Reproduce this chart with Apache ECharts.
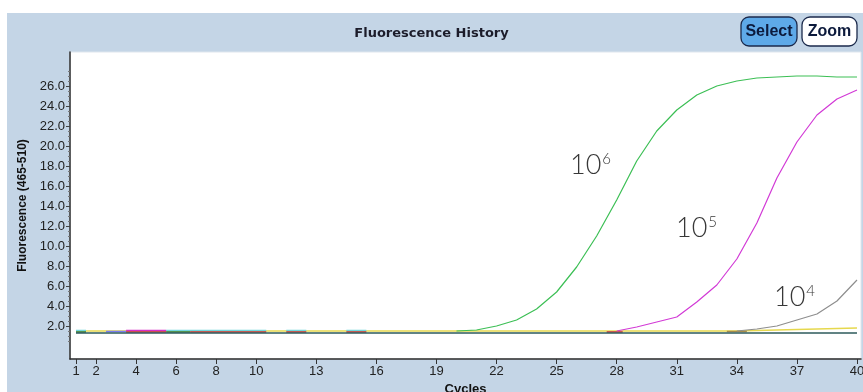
<!DOCTYPE html>
<html>
<head>
<meta charset="utf-8">
<script src="https://cdn.jsdelivr.net/npm/echarts@6/dist/echarts.min.js"></script>
<style>
  html, body { margin: 0; padding: 0; background: #ffffff; }
  #chart { width: 863px; height: 392px; }
</style>
</head>
<body>
<div id="chart"></div>
<script>
// cycle numbers and tick labels
const cycles = [1, 2, 3, 4, 5, 6, 7, 8, 9, 10, 11, 12, 13, 14, 15, 16, 17, 18, 19, 20,
  21, 22, 23, 24, 25, 26, 27, 28, 29, 30, 31, 32, 33, 34, 35, 36, 37, 38, 39, 40];
const xTicks = [1, 2, 4, 6, 8, 10, 13, 16, 19, 22, 25, 28, 31, 34, 37, 40];
const yTicks = [2, 4, 6, 8, 10, 12, 14, 16, 18, 20, 22, 24, 26];

// amplification curves (start cycle + values)
const green10e6Start = 20;
const green10e6 = [1.5, 1.6, 2.0, 2.6, 3.7, 5.4, 7.9, 11.0, 14.6, 18.5, 21.5, 23.6, 25.1, 26.0, 26.5, 26.8, 26.9, 27.0, 27.0, 26.9, 26.9];
const magenta10e5Start = 28;
const magenta10e5 = [1.5, 1.9, 2.4, 2.9, 4.4, 6.1, 8.7, 12.3, 16.8, 20.4, 23.1, 24.7, 25.6];
const gray10e4Start = 34;
const gray10e4 = [1.5, 1.7, 2.0, 2.6, 3.2, 4.5, 6.6];
const yellowStart = 1;
const yellow = [1.5, 1.5, 1.5, 1.5, 1.5, 1.5, 1.5, 1.5, 1.5, 1.5, 1.5, 1.5, 1.5, 1.5, 1.5, 1.5, 1.5, 1.5, 1.5, 1.5,
  1.5, 1.5, 1.5, 1.5, 1.5, 1.5, 1.5, 1.5, 1.5, 1.5, 1.5, 1.5, 1.5, 1.5, 1.55, 1.6, 1.65, 1.7, 1.75, 1.8];
const tealLevel = 1.3;

// flat baseline traces, visible only in short pieces (cycle ranges)
const cyanRanges = [[1, 1.5], [5.5, 10.5], [11.5, 12.5], [14.5, 15.5]];
const cyanLevel = 1.55;
const darkGreenRanges = [[1, 1.5], [5.5, 6.7]];
const darkGreenLevel = 1.4;
const blueRanges = [[2.5, 3.5]];
const blueLevel = 1.45;
const pinkRanges = [[3.5, 5.5]];
const pinkLevel = 1.55;
const redRanges = [[3.5, 5.5], [6.7, 10.5], [11.5, 12.5], [14.5, 15.5], [27.5, 28.3]];
const redLevel = 1.4;
const oliveRanges = [[33.5, 34.5]];
const oliveLevel = 1.45;

function curve(start, vals) {
  return vals.map((v, i) => [cycles[start - 1 + i], v]);
}
function pieces(ranges, level) {
  const out = [];
  ranges.forEach((r, i) => {
    if (i > 0) out.push([r[0], null]);
    out.push([r[0], level], [r[1], level]);
  });
  return out;
}
function line(name, data, color, width) {
  return {
    name, type: 'line', data, showSymbol: false, symbol: 'none',
    connectNulls: false, smooth: false,
    lineStyle: { color, width: width || 1.2 }, z: 3
  };
}

const chart = echarts.init(document.getElementById('chart'));
const supText = (x, y, base, sup) => ({
  type: 'text', left: x, top: y, z: 100,
  style: {
    text: '{a|' + base + '}{b|' + sup + '}',
    rich: {
      a: { fontSize: 27, fontFamily: 'Lato', fontWeight: 300, fill: '#383838', verticalAlign: 'top', lineHeight: 28 },
      b: { fontSize: 15, fontFamily: 'Lato', fontWeight: 300, fill: '#383838', verticalAlign: 'top', lineHeight: 28, padding: [0, 0, 12, 1] }
    }
  }
});
const btnFont = { fontFamily: 'Liberation Sans, Arial, sans-serif', fontWeight: 'bold', fontSize: 16, fill: '#0c1a3c', align: 'center', verticalAlign: 'middle' };

chart.setOption({
  animation: false,
  backgroundColor: '#ffffff',
  graphic: [
    { type: 'rect', shape: { x: 7, y: 13, width: 856, height: 379 }, style: { fill: '#c4d5e6' }, z: -10, silent: true },
    { type: 'text', left: 'center', top: 27, style: { text: 'Fluorescence History', fontFamily: 'DejaVu Sans', fontWeight: 'bold', fontSize: 13, fill: '#1c1c2a' } },
    { type: 'rect', shape: { x: 741, y: 17, width: 56, height: 29, r: 8 }, style: { fill: '#5ea9e8', stroke: '#1b2a4c', lineWidth: 1.3 } },
    { type: 'text', x: 769, y: 31.5, style: Object.assign({ text: 'Select' }, btnFont) },
    { type: 'rect', shape: { x: 802, y: 17, width: 55, height: 29, r: 8 }, style: { fill: '#ffffff', stroke: '#1b2a4c', lineWidth: 1.3 } },
    { type: 'text', x: 829.5, y: 31.5, style: Object.assign({ text: 'Zoom' }, btnFont) },
    supText(570, 152, '10', '6'),
    supText(676, 215, '10', '5'),
    supText(774, 284, '10', '4')
  ],
  grid: {
    left: 70, top: 52, right: 2, bottom: 33,
    outerBoundsMode: 'none',
    show: true, backgroundColor: '#ffffff', borderColor: '#dfe6ee', borderWidth: 1
  },
  xAxis: {
    type: 'value', min: 0.7, max: 40.2,
    name: 'Cycles', nameLocation: 'middle', nameGap: 23,
    nameTextStyle: { fontFamily: 'Liberation Sans', fontWeight: 'bold', fontSize: 13, color: '#111' },
    axisLine: { show: true, onZero: false, lineStyle: { color: '#2b2b2b', width: 1.5 } },
    axisTick: { show: true, customValues: xTicks, length: 5, lineStyle: { color: '#333' } },
    axisLabel: { customValues: xTicks, fontFamily: 'Liberation Sans', fontSize: 13, color: '#222', margin: 6 },
    splitLine: { show: false }
  },
  yAxis: [{
    type: 'value', min: -1.3, max: 29.4,
    name: 'Fluorescence (465-510)', nameLocation: 'middle', nameRotate: 90, nameGap: 37,
    nameTextStyle: { fontFamily: 'Liberation Sans', fontWeight: 'bold', fontSize: 12, color: '#111' },
    axisLine: { show: true, onZero: false, lineStyle: { color: '#2b2b2b', width: 1.5 } },
    axisTick: { show: true, customValues: yTicks, length: 4, lineStyle: { color: '#444' } },
    axisLabel: { customValues: yTicks, formatter: v => v.toFixed(1), fontFamily: 'Liberation Sans', fontSize: 13, color: '#222', margin: 5 },
    splitLine: { show: false }
  }, {
    type: 'value', min: -1.3, max: 29.4, position: 'left',
    axisLine: { show: false },
    axisTick: { show: true, customValues: cycles.filter(c => c <= 28).map(c => c - 0.5).concat(cycles.filter(c => c <= 28 && c % 2 === 1)), length: 2, lineStyle: { color: '#777' } },
    axisLabel: { show: false },
    splitLine: { show: false }
  }],
  series: [
    line('yellow', curve(yellowStart, yellow), '#e6d84e', 1.6),
    line('cyan', pieces(cyanRanges, cyanLevel), '#6fd6dc', 1.6),
    line('pink', pieces(pinkRanges, pinkLevel), '#d62fc8', 1.6),
    line('blue', pieces(blueRanges, blueLevel), '#7a7cf0', 1.6),
    line('darkgreen', pieces(darkGreenRanges, darkGreenLevel), '#2f7a3a', 1.6),
    line('red', pieces(redRanges, redLevel), '#c0303c', 1.6),
    line('olive', pieces(oliveRanges, oliveLevel), '#a58c4a', 1.6),
    line('teal', cycles.map(c => [c, tealLevel]), '#2e5b5c', 1.6),
    line('10^6', curve(green10e6Start, green10e6), '#3cbf55', 1.2),
    line('10^5', curve(magenta10e5Start, magenta10e5), '#d23ad6', 1.2),
    line('10^4', curve(gray10e4Start, gray10e4), '#8e8e8e', 1.2)
  ]
});
</script>
</body>
</html>
